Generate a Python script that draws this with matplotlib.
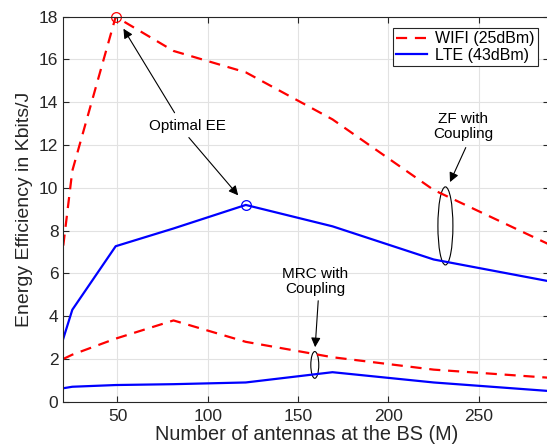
import numpy as np
import matplotlib
matplotlib.use("Agg")
from matplotlib import pyplot as plt
from matplotlib.patches import Ellipse

plt.rcParams['font.family'] = ['Liberation Sans', 'DejaVu Sans']

# antennas at the BS
M = [20, 25, 49, 81, 121, 169, 225, 289]

# ZF with coupling
wifi_zf = [7.3, 10.8, 18.0, 16.4, 15.4, 13.2, 9.9, 7.35]
lte_zf = [2.95, 4.3, 7.27, 8.1, 9.2, 8.2, 6.65, 5.63]

# MRC with coupling
wifi_mrc = [2.0, 2.2, 2.95, 3.8, 2.8, 2.08, 1.5, 1.12]
lte_mrc = [0.63, 0.7, 0.78, 0.82, 0.9, 1.38, 0.9, 0.5]

x_ticks = [50, 100, 150, 200, 250]
y_ticks = [0, 2, 4, 6, 8, 10, 12, 14, 16, 18]

fig = plt.figure(figsize=(5.47, 4.47), dpi=100)
ax = fig.add_axes([0.1157, 0.1013, 0.8885, 0.8613])

dash = (0, (5, 3.5))
ax.plot(M, wifi_zf, color='red', lw=1.6, linestyle=dash, label='WIFI (25dBm)')
ax.plot(M, lte_zf, color='blue', lw=1.6, label='LTE (43dBm)')
ax.plot(M, wifi_mrc, color='red', lw=1.6, linestyle=dash)
ax.plot(M, lte_mrc, color='blue', lw=1.6)

# optimal points
ax.plot(M[2], wifi_zf[2], 'o', mfc='none', mec='red', ms=7, mew=0.9, clip_on=False)
ax.plot(M[4], lte_zf[4], 'o', mfc='none', mec='blue', ms=7, mew=0.9, clip_on=False)

ax.set_xlim(20, 289)
ax.set_ylim(0, 18)
ax.set_xticks(x_ticks)
ax.set_yticks(y_ticks)
ax.tick_params(direction='in', labelsize=12.5, right=True, top=True, length=4,
               colors='#262626')
ax.tick_params(axis='x', pad=5)
ax.grid(True, color='#e2e2e2', lw=0.8)
ax.set_axisbelow(True)
for s in ax.spines.values():
    s.set_color('#262626')
    s.set_linewidth(0.8)

ax.set_xlabel('Number of antennas at the BS (M)', fontsize=14.3, labelpad=1, color='#262626')
ax.set_ylabel('Energy Efficiency in Kbits/J', fontsize=14, labelpad=4, color='#262626')

arrow = dict(arrowstyle='-|>', color='black', lw=0.8, mutation_scale=14)
ax.annotate('', xy=(52.5, 17.55), xytext=(82.4, 13.4), arrowprops=arrow)
ax.annotate('', xy=(117.8, 9.55), xytext=(88.5, 12.45), arrowprops=arrow)
ax.text(88.5, 12.9, 'Optimal EE', ha='center', va='center', fontsize=11)

ax.add_patch(Ellipse((231.5, 8.22), 8.3, 3.65, fill=False, ec='black', lw=0.8))
ax.text(241.3, 12.87, 'ZF with\nCoupling', ha='center', va='center', fontsize=11,
        linespacing=1.1)
ax.annotate('', xy=(233.4, 10.15), xytext=(243.4, 12.0), arrowprops=arrow)

ax.add_patch(Ellipse((159.2, 1.72), 4.4, 1.25, fill=False, ec='black', lw=0.8))
ax.text(159.3, 5.6, 'MRC with\nCoupling', ha='center', va='center', fontsize=11,
        linespacing=1.1)
ax.annotate('', xy=(159.3, 2.42), xytext=(161.2, 4.85), arrowprops=arrow)

leg = ax.legend(loc='upper right', bbox_to_anchor=(538 / 547, 1 - 28 / 447),
                bbox_transform=fig.transFigure, fontsize=11.5, fancybox=False,
                edgecolor='#262626', framealpha=1, borderpad=0.2,
                handlelength=1.9, handletextpad=0.55, labelspacing=0.1,
                borderaxespad=0)
leg.get_frame().set_linewidth(0.8)

fig.savefig('out.png', dpi=100)
